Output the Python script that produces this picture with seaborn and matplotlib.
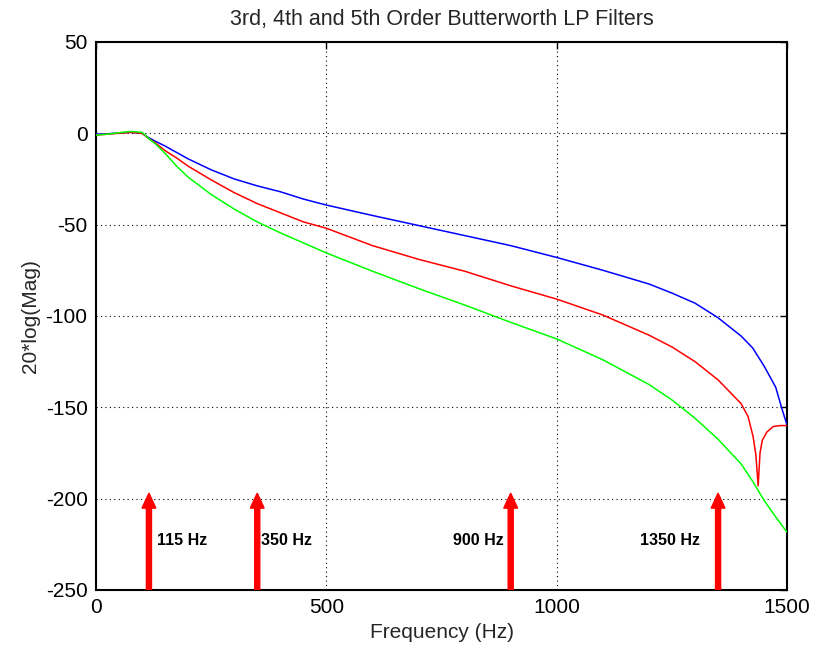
import matplotlib
matplotlib.use("Agg")
import matplotlib.pyplot as plt
import seaborn as sns
import pandas as pd

# Frequency response readings (Hz, dB) for the three filter orders
freq_3rd = [0, 25, 50, 75, 100, 115, 130, 150, 175, 200, 250, 300, 350, 400, 450, 500,
            600, 700, 800, 900, 1000, 1100, 1200, 1250, 1300, 1350, 1400, 1425, 1450,
            1475, 1490, 1500]
db_3rd = [-0.5, -0.3, 0.2, 0.5, 0.0, -2.5, -4.5, -7.0, -10.5, -14.0, -20.0, -25.0, -28.8,
          -32.0, -36.0, -39.3, -45.0, -50.5, -56.0, -61.5, -68.0, -75.0, -82.5, -87.5,
          -93.0, -101.0, -111.0, -117.5, -127.5, -139.0, -152.0, -160.0]

freq_4th = [0, 25, 50, 75, 100, 115, 130, 150, 175, 200, 250, 300, 350, 400, 450, 500,
            600, 700, 800, 900, 1000, 1100, 1200, 1250, 1300, 1350, 1400, 1415, 1426,
            1432, 1437, 1441, 1446, 1456, 1470, 1485, 1500]
db_4th = [-1.0, -0.5, 0.0, 0.5, 0.0, -3.0, -5.5, -9.5, -13.5, -18.0, -25.5, -32.5, -38.5,
          -43.5, -48.5, -52.0, -61.5, -69.0, -75.5, -83.5, -90.8, -99.5, -110.5, -117.0,
          -125.0, -135.0, -148.0, -155.0, -166.0, -176.0, -193.0, -175.0, -168.0, -163.5,
          -160.5, -160.0, -160.0]

freq_5th = [0, 25, 50, 75, 100, 115, 130, 150, 175, 200, 250, 300, 350, 400, 450, 500,
            600, 700, 800, 900, 1000, 1100, 1200, 1250, 1300, 1350, 1400, 1425, 1450,
            1475, 1500]
db_5th = [-1.0, -0.5, 0.3, 1.0, 0.5, -3.0, -6.0, -11.0, -18.0, -24.0, -33.5, -41.5, -48.5,
          -54.5, -60.0, -65.5, -75.5, -85.0, -94.0, -103.5, -112.6, -124.0, -137.5, -146.0,
          -156.0, -167.5, -181.0, -190.5, -201.0, -210.0, -218.5]

# Marked frequencies and their labels
marker_freqs = [115, 350, 900, 1350]
marker_labels = ["115 Hz", "350 Hz", "900 Hz", "1350 Hz"]
label_x = [132, 358, 775, 1181]

x_ticks = [0, 500, 1000, 1500]
y_ticks = [50, 0, -50, -100, -150, -200, -250]

sns.set_style("white")
plt.rcParams["font.family"] = ["Liberation Sans", "DejaVu Sans"]
plt.rcParams["axes.unicode_minus"] = False

fig = plt.figure(figsize=(8.2, 6.54), dpi=100)
ax = fig.add_axes([0.117, 0.0979, 0.843, 0.838])

curves = [
    (freq_3rd, db_3rd, "#0000ff"),
    (freq_4th, db_4th, "#ff0000"),
    (freq_5th, db_5th, "#00ff00"),
]
for f, d, c in curves:
    df = pd.DataFrame({"Frequency": f, "dB": d})
    sns.lineplot(data=df, x="Frequency", y="dB", color=c, lw=1.1, ax=ax,
                 estimator=None, sort=False, zorder=3)

for f in marker_freqs:
    ax.arrow(f, -250, 0, 53, width=11, head_width=30, head_length=8.2,
             length_includes_head=True, color="#ff0000", zorder=4)
for xl, lab in zip(label_x, marker_labels):
    ax.text(xl, -223, lab, fontsize=11.5, fontweight="bold", ha="left",
            va="center", color="black", zorder=5)

ax.set_xlim(0, 1500)
ax.set_ylim(-250, 50)
ax.set_xticks(x_ticks)
ax.set_yticks(y_ticks)
ax.grid(True, color="black", linestyle=(0, (1, 3)), lw=0.8, zorder=1)
ax.tick_params(direction="in", top=True, right=True, length=5, width=1,
               labelsize=15, colors="black", pad=6)
for s in ax.spines.values():
    s.set_visible(True)
    s.set_color("black")
    s.set_linewidth(1.5)

ax.set_title("3rd, 4th and 5th Order Butterworth LP Filters", fontsize=15.5, pad=12)
ax.set_xlabel("Frequency (Hz)", fontsize=15, labelpad=4)
ax.set_ylabel("20*log(Mag)", fontsize=15, labelpad=4)

fig.savefig("out.png", dpi=100, facecolor="white")
